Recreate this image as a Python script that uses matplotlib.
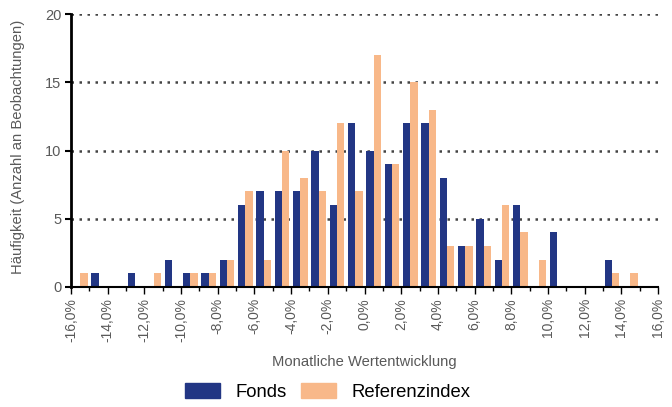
import matplotlib
matplotlib.use("Agg")
import matplotlib.pyplot as plt
import numpy as np
from matplotlib.patches import Patch
from matplotlib.ticker import MultipleLocator, FuncFormatter

plt.rcParams['font.family'] = ['Liberation Sans', 'DejaVu Sans']

# bin left edges in % (bins of width 1%)
bin_lefts = list(range(-16, 16))
fonds = [0, 1, 0, 1, 0, 2, 1, 1, 2, 6, 7, 7, 7, 10, 6, 12,
         10, 9, 12, 12, 8, 3, 5, 2, 6, 0, 4, 0, 0, 2, 0, 0]
referenz = [1, 0, 0, 0, 1, 0, 1, 1, 2, 7, 2, 10, 8, 7, 12, 7,
            17, 9, 15, 13, 3, 3, 3, 6, 4, 2, 0, 0, 0, 1, 1, 0]
series_names = ["Fonds", "Referenzindex"]
x_ticks = list(range(-16, 17, 2))
y_ticks = [0, 5, 10, 15, 20]

navy = "#223684"
orange = "#F8B889"
gray = "#595959"

fig = plt.figure(figsize=(6.72, 4.07), dpi=100)
ax = fig.add_axes([71/672, 1-287/407, (658-71)/672, (287-14)/407])

centers = np.array(bin_lefts) + 0.5
w = 0.4
ax.bar(centers - w/2, fonds, width=w, color=navy, zorder=3)
ax.bar(centers + w/2, referenz, width=w, color=orange, zorder=3)

ax.set_xlim(-16, 16)
ax.set_ylim(0, 20)
ax.set_yticks(y_ticks)
for y in y_ticks[1:]:
    ax.axhline(y, color="#444444", linestyle=(0, (1, 2.2)), linewidth=1.8, zorder=1)

ax.set_xticks(x_ticks)
ax.xaxis.set_minor_locator(MultipleLocator(1))
ax.xaxis.set_major_formatter(FuncFormatter(lambda v, p: f"{v:.1f}%".replace(".", ",")))
ax.tick_params(axis="x", which="major", length=5, width=1, color="black",
               labelsize=10, labelcolor=gray, labelrotation=90, pad=3)
ax.tick_params(axis="x", which="minor", length=3, width=1, color="black")
ax.tick_params(axis="y", which="major", length=4, width=1.5, color="black",
               labelsize=10.5, labelcolor=gray, pad=3)

for s in ["top", "right"]:
    ax.spines[s].set_visible(False)
ax.spines["left"].set_linewidth(2)
ax.spines["bottom"].set_linewidth(1.5)
ax.spines["left"].set_zorder(4)
ax.spines["bottom"].set_zorder(4)

ax.set_xlabel("Monatliche Wertentwicklung", color=gray, fontsize=10.6)
ax.xaxis.set_label_coords(0.5, -(355-287)/273)
ax.set_ylabel("Häufigkeit (Anzahl an Beobachtungen)", color=gray, fontsize=10.6)
ax.yaxis.set_label_coords(-(71-25)/587, (287-147)/273)

handles = [Patch(facecolor=navy, edgecolor=navy), Patch(facecolor=orange, edgecolor=orange)]
fig.legend(handles, series_names, loc="center", bbox_to_anchor=(328/672, 1-392/407),
           ncol=2, frameon=False, fontsize=13.3, handlelength=1.9, handleheight=0.85,
           columnspacing=0.75, handletextpad=0.85)

fig.savefig("out.png", dpi=100)
